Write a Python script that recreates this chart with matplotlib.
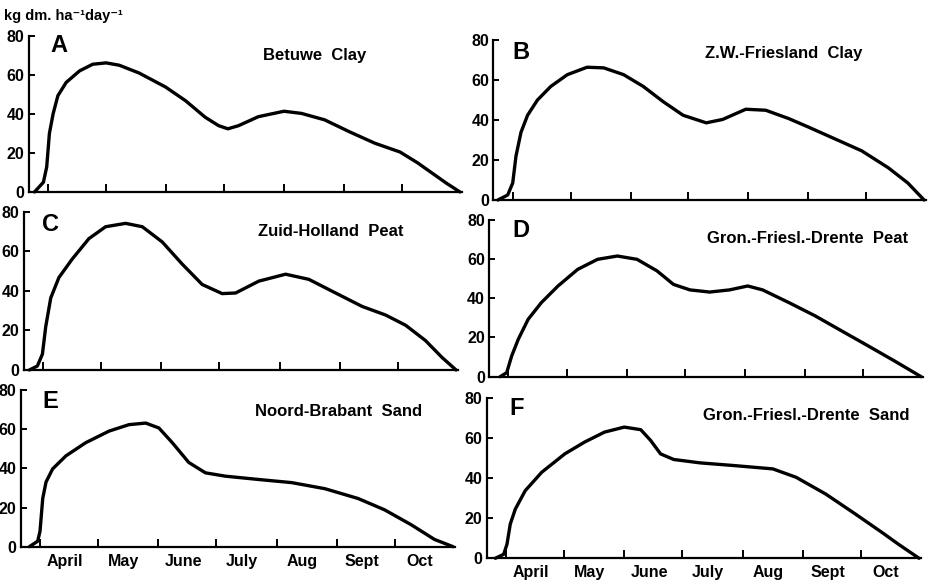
import matplotlib
matplotlib.use("Agg")
import matplotlib.pyplot as plt


# x is day of the year, y is kg dry matter per ha per day
month_starts = [91, 121, 152, 182, 213, 244, 274]
month_names = ["April", "May", "June", "July", "Aug", "Sept", "Oct"]

a_day = [84, 88.6, 90.3, 91.7, 93.6, 96.1, 100.4, 107.3, 114.1, 121, 127.8, 138.1,
         151.8, 162.1, 172.3, 179.2, 184, 189.5, 199.7, 213, 222, 234, 247, 260,
         273, 282, 290, 297, 304]
a_val = [0, 5, 12.8, 30, 40, 49.4, 56.2, 62.1, 65.5, 66.2, 65, 61,
         53.8, 46.8, 38.3, 34, 32.4, 34, 38.6, 41.4, 40.3, 37, 30.8, 25,
         20.5, 15, 9.4, 4.5, 0]

b_day = [83.3, 88.4, 91, 92.7, 95.3, 98.7, 103.8, 110.7, 119.3, 129.5, 138.1,
         148.4, 158.6, 168.9, 179.2, 191.2, 199.7, 211.7, 222, 234, 244.3, 258,
         271.7, 285.5, 295.6, 304]
b_val = [0, 2.5, 8.5, 22, 33.9, 42.4, 50, 56.8, 62.7, 66.4, 66.1,
         62.7, 56.8, 49.2, 42.4, 38.6, 40.3, 45.4, 44.9, 40.7, 36.4, 30.5,
         24.6, 16.1, 8.5, 0]

c_day = [84, 88.1, 90.7, 92.4, 95, 99.2, 106.1, 114.7, 123.3, 133.6, 142.2,
         152.5, 162.8, 173.1, 183.4, 190.3, 202.3, 216.1, 228.1, 241.9, 255.6,
         267.6, 278, 288.2, 296.8, 304]
c_val = [0, 2, 8, 21.8, 36.4, 46.7, 56.1, 66.4, 72.4, 74.1, 72.4,
         64.7, 53.5, 43.2, 38.6, 38.9, 44.9, 48.4, 45.8, 38.9, 32.1,
         27.8, 22.6, 14.9, 6.3, 0]

d_day = [86.7, 90.1, 92.7, 96.1, 101.2, 108, 116.6, 126.8, 137, 147.2, 157.4,
         167.7, 176.2, 184.7, 194.9, 205.1, 214.5, 222.2, 235.8, 249.4, 263.1,
         276.7, 290.3, 304]
d_val = [0, 2, 10.6, 19.1, 29.3, 37.8, 46.3, 54.8, 59.9, 61.6, 59.9,
         54, 47.1, 44.3, 43.2, 44.3, 46.3, 44.3, 37.8, 31, 23.3,
         15.7, 8, 0]

e_day = [85.5, 89.8, 91, 92.4, 94.1, 97.5, 104.4, 114.6, 126.6, 136.9, 145.5,
         152.3, 159.2, 167.7, 176.3, 186.5, 203.7, 220.8, 237.9, 255, 268.7,
         282.4, 294.4, 304]
e_val = [0, 2.8, 7.9, 24.6, 33, 39.7, 46.4, 53.1, 59, 62.3, 63.1,
         60.6, 53.1, 43, 37.7, 36, 34.3, 32.7, 29.6, 24.6, 18.8,
         11.2, 3.7, 0]

f_day = [85.5, 89.8, 91.5, 93.2, 95.8, 100.9, 109.4, 121.3, 131.5, 141.8, 152,
         160.5, 165.6, 170.7, 177.5, 191.2, 208.2, 228.6, 240.6, 255.9, 271.2,
         284.9, 293.4, 304]
f_val = [0, 2, 7, 17.1, 24.6, 33.8, 43, 52.2, 58.1, 63.1, 65.6,
         64.3, 58.9, 52.2, 49.4, 47.7, 46.4, 44.7, 40.5, 32.1, 22.1,
         12.9, 7, 0]

letters = ["A", "B", "C", "D", "E", "F"]
titles = ["Betuwe  Clay", "Z.W.-Friesland  Clay", "Zuid-Holland  Peat",
          "Gron.-Friesl.-Drente  Peat", "Noord-Brabant  Sand",
          "Gron.-Friesl.-Drente  Sand"]
series = [(a_day, a_val), (b_day, b_val), (c_day, c_val),
          (d_day, d_val), (e_day, e_val), (f_day, f_val)]

# panel boxes in figure fractions (it is a bit skewed)
boxes = [
    [0.0309, 0.6707, 0.4663, 0.2676],
    [0.5311, 0.6569, 0.4657, 0.2744],
    [0.0254, 0.3654, 0.4676, 0.2715],
    [0.5264, 0.3539, 0.4672, 0.2688],
    [0.0222, 0.0623, 0.4676, 0.2688],
    [0.5238, 0.0424, 0.4676, 0.2744],
]
title_pos = [(202, 70), (190.6, 73.5), (201.8, 69.8),
             (193.3, 70.6), (201.8, 68.9), (192.5, 71.6)]
letter_pos = [(92, 75), (91, 73.7), (90.5, 73.5),
              (93, 74.8), (92, 74.3), (92.5, 74.7)]

plt.rcParams['font.family'] = ['Liberation Sans', 'DejaVu Sans']
plt.rcParams['font.weight'] = 'bold'

fig = plt.figure(figsize=(9.29, 5.83), dpi=100)

for i, box in enumerate(boxes):
    ax = fig.add_axes(box)
    day, val = series[i]
    ax.plot(day, val, color="black", lw=2.4, solid_joinstyle="round",
            solid_capstyle="round", clip_on=False)

    ax.set_xlim(81, 305)
    ax.set_ylim(0, 80)
    for s in ["top", "right"]:
        ax.spines[s].set_visible(False)
    for s in ["left", "bottom"]:
        ax.spines[s].set_linewidth(1.6)

    ax.set_yticks([0, 20, 40, 60, 80])
    ax.tick_params(axis="y", direction="in", length=4, width=1.4,
                   labelsize=11.5, pad=3)
    ax.set_xticks(month_starts)
    ax.set_xticklabels([])
    ax.tick_params(axis="x", which="major", direction="in", length=6, width=1.4)

    if i >= 4:
        ax.set_xticks([d + 13 for d in month_starts], minor=True)
        ax.set_xticklabels(month_names, minor=True, fontsize=11.5, fontweight="bold")
        ax.tick_params(axis="x", which="minor", length=0, pad=5)

    ax.text(title_pos[i][0], title_pos[i][1], titles[i], fontsize=12,
            fontweight="bold", ha="left", va="center")
    ax.text(letter_pos[i][0], letter_pos[i][1], letters[i], fontsize=17,
            fontweight="bold", ha="left", va="center")

fig.text(0.004, 0.972, "kg dm. ha\u207b\u00b9day\u207b\u00b9", fontsize=10.5,
         fontweight="bold", ha="left", va="center")

fig.savefig("out.png", dpi=100)
